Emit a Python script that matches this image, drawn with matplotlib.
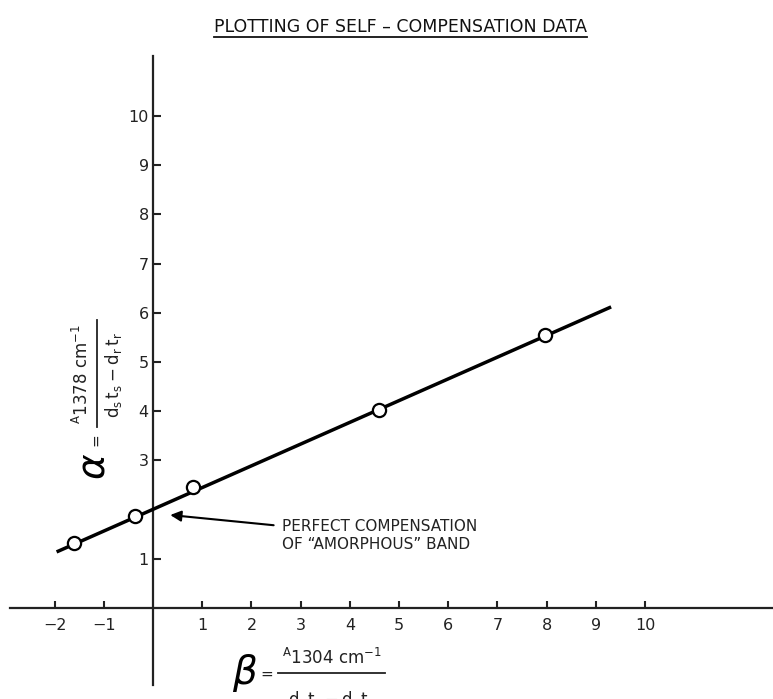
import numpy as np
import matplotlib
matplotlib.use('Agg')
import matplotlib.pyplot as plt
from matplotlib.lines import Line2D

plt.rcParams['font.family'] = ['DejaVu Sans']
plt.rcParams['mathtext.fontset'] = 'dejavusans'

TITLE = "PLOTTING OF SELF \u2013 COMPENSATION DATA"

# measured points (beta, alpha)
beta = [-1.61, -0.37, 0.82, 4.59, 7.96]
alpha = [1.33, 1.86, 2.45, 4.02, 5.55]

# straight line drawn through the points
fit_beta = [-1.96, 9.31]
fit_alpha = [1.14, 6.12]

x_ticks = [-2, -1, 1, 2, 3, 4, 5, 6, 7, 8, 9, 10]
y_ticks = [1, 3, 4, 5, 6, 7, 8, 9, 10]

note = "PERFECT COMPENSATION\nOF \u201cAMORPHOUS\u201d BAND"
note_xy = (0.35, 1.89)
note_text_xy = (2.62, 1.47)

alpha_num = r'${}^{\mathrm{A}}\mathrm{1378\ cm^{-1}}$'
beta_num = r'${}^{\mathrm{A}}\mathrm{1304\ cm^{-1}}$'
denom = r'$\mathrm{d_s\,t_s - d_r\,t_r}$'

W, H = 773, 699
fig = plt.figure(figsize=(W / 100, H / 100), dpi=100)


def fx(px):
    return px / W


def fy(py):
    return 1 - py / H


# axes box in pixels: left 10, right 773, top 56, bottom 685
ax = fig.add_axes([fx(10), fy(685), 763 / W, (685 - 56) / H])
ax.set_xlim(-2.907, 12.60)
ax.set_ylim(-1.565, 11.22)

for side in ('top', 'right'):
    ax.spines[side].set_visible(False)
ax.spines['left'].set_position(('data', 0))
ax.spines['bottom'].set_position(('data', 0))
for side in ('left', 'bottom'):
    ax.spines[side].set_linewidth(1.6)
    ax.spines[side].set_color('#222222')

ax.set_xticks(x_ticks)
ax.set_xticklabels([str(t).replace('-', '\u2212') for t in x_ticks])
ax.set_yticks(y_ticks)
ax.set_yticklabels([str(t) for t in y_ticks])
ax.tick_params(axis='x', direction='in', length=5, width=1.5, pad=7,
               labelsize=11.5, colors='#222222')
ax.tick_params(axis='y', direction='in', length=6, width=1.5, pad=3,
               labelsize=11.5, colors='#222222')

ax.plot(fit_beta, fit_alpha, color='black', lw=2.5, solid_capstyle='butt', zorder=3)
ax.plot(beta, alpha, 'o', ms=9.5, mfc='white', mec='black', mew=1.6, zorder=4)

ax.annotate(note, xy=note_xy, xytext=note_text_xy, fontsize=11,
            va='center', ha='left', linespacing=1.25, color='#222222',
            arrowprops=dict(arrowstyle='-|>', color='black', lw=1.5,
                            mutation_scale=16, shrinkA=4, shrinkB=0))

# y label: alpha = A / (ds ts - dr tr), written sideways
fig.text(fx(95), fy(466), r'$\alpha$', fontsize=28, rotation=90,
         family='Liberation Serif', style='italic', ha='center', va='center')
fig.text(fx(96), fy(440), '=', fontsize=11, rotation=90,
         ha='center', va='center', color='#222222')
fig.text(fx(82), fy(374), alpha_num, fontsize=12, rotation=90,
         ha='center', va='center', color='#222222')
fig.text(fx(114), fy(375), denom, fontsize=12, rotation=90,
         ha='center', va='center', color='#222222')
fig.add_artist(Line2D([fx(97), fx(97)], [fy(320), fy(427)], color='#222222', lw=1.3))

# x label: beta = A / (ds ts - dr tr)
fig.text(fx(245), fy(673), r'$\beta$', fontsize=28,
         family='Liberation Serif', style='italic', ha='center', va='center')
fig.text(fx(267), fy(674), '=', fontsize=11, ha='center', va='center',
         color='#222222')
fig.text(fx(332), fy(658), beta_num, fontsize=12, ha='center', va='center',
         color='#222222')
fig.text(fx(331), fy(689), denom, fontsize=12, ha='center', va='top',
         color='#222222')
fig.add_artist(Line2D([fx(278), fx(385)], [fy(673), fy(673)], color='#222222', lw=1.3))

title = fig.text(fx(400), fy(32), TITLE, fontsize=12.5, ha='center',
                 va='baseline', color='#111111')
fig.canvas.draw()
bb = title.get_window_extent()
fig.add_artist(Line2D([bb.x0 / W, bb.x1 / W], [fy(37), fy(37)], color='#111111', lw=1.3))

fig.savefig('out.png', dpi=100)
